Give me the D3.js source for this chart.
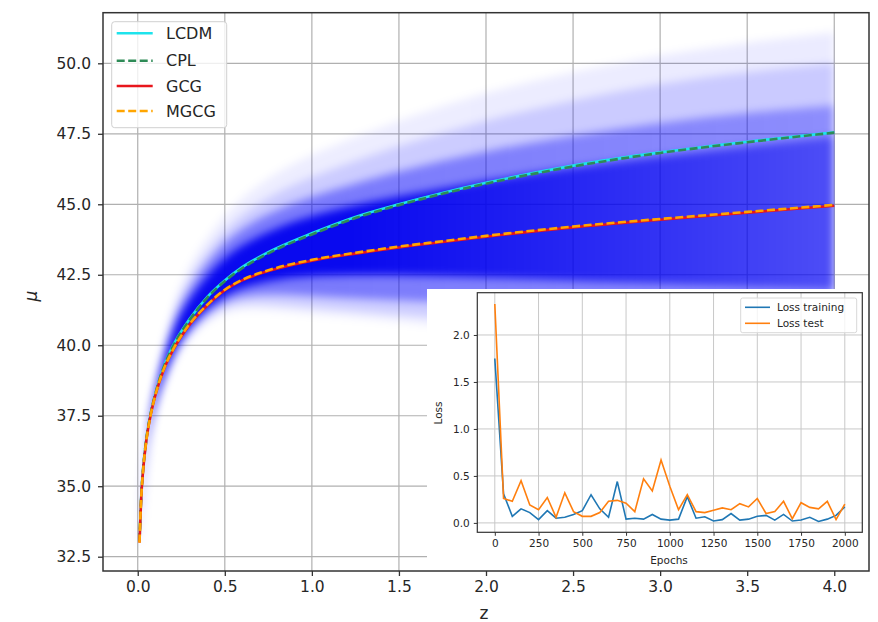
<!DOCTYPE html>
<html>
<head>
<meta charset="utf-8">
<script src="https://cdn.jsdelivr.net/npm/d3@7"></script>
<style>
  html, body { margin: 0; padding: 0; background: #fff; }
  svg { display: block; }
  text { font-family: "DejaVu Sans", sans-serif; fill: #262626; }
</style>
</head>
<body>
<svg id="chart" width="878" height="622"></svg>
<script>
// ---- Distance modulus curves ----
const zGrid = [0.01, 0.02, 0.03, 0.05, 0.075, 0.1, 0.15, 0.2, 0.3, 0.4, 0.5, 0.6, 0.75, 1.0, 1.25, 1.5, 1.75, 2.0, 2.5, 3.0, 3.5, 4.0];
const muLCDM = [33.05, 34.65, 35.55, 36.7, 37.6, 38.25, 39.25, 39.95, 40.95, 41.72, 42.3, 42.77, 43.3, 43.97, 44.55, 45.0, 45.4, 45.76, 46.37, 46.84, 47.22, 47.55];
const muCPL  = [33.05, 34.65, 35.55, 36.7, 37.6, 38.25, 39.24, 39.93, 40.92, 41.69, 42.27, 42.73, 43.26, 43.93, 44.51, 44.97, 45.37, 45.73, 46.34, 46.82, 47.2, 47.54];
const muGCG  = [33.0, 34.6, 35.5, 36.65, 37.55, 38.2, 39.15, 39.8, 40.75, 41.42, 41.95, 42.3, 42.63, 43.0, 43.25, 43.47, 43.66, 43.85, 44.18, 44.45, 44.7, 44.95];
const muMGCG = [33.0, 34.6, 35.5, 36.65, 37.55, 38.2, 39.16, 39.81, 40.77, 41.44, 41.97, 42.32, 42.66, 43.03, 43.28, 43.5, 43.69, 43.88, 44.21, 44.48, 44.73, 44.98];

// ---- Spread of the reconstructed realisations (nested envelopes, outer to inner) ----
const bandZ = [0.01, 0.05, 0.1, 0.2, 0.3, 0.5, 0.75, 1.0, 1.5, 2.0, 2.5, 3.0, 3.5, 4.0];
const haloLo  = [32.9, 36.25, 37.7, 39.4, 40.35, 41.3, 41.25, 41.1, 40.85, 40.5, 40.2, 39.9, 39.7, 39.5];
const haloHi  = [33.1, 37.0, 38.85, 41.5, 42.95, 44.75, 46.0, 46.8, 48.0, 49.0, 49.7, 50.3, 50.75, 51.1];
const faintLo = [32.92, 36.3, 37.8, 39.5, 40.5, 41.5, 41.5, 41.35, 41.1, 40.85, 40.6, 40.35, 40.15, 39.95];
const faintHi = [33.08, 36.95, 38.7, 41.2, 42.5, 44.2, 45.3, 46.0, 47.1, 48.0, 48.7, 49.3, 49.7, 50.0];
const midLo   = [32.95, 36.38, 37.92, 39.62, 40.6, 41.7, 41.85, 41.75, 41.6, 41.45, 41.3, 41.15, 41.0, 40.9];
const midHi   = [33.05, 36.87, 38.58, 40.9, 42.1, 43.8, 44.7, 45.3, 46.2, 46.9, 47.45, 47.9, 48.25, 48.5];
const coreLo  = [32.97, 36.45, 38.05, 39.75, 40.75, 41.9, 42.3, 42.5, 42.5, 42.4, 42.3, 42.2, 42.1, 42.0];
const coreHi  = [33.03, 36.8, 38.45, 40.6, 41.7, 43.25, 44.05, 44.65, 45.3, 45.85, 46.3, 46.7, 47.05, 47.4];

const xTicks = [0.0, 0.5, 1.0, 1.5, 2.0, 2.5, 3.0, 3.5, 4.0];
const yTicks = [32.5, 35.0, 37.5, 40.0, 42.5, 45.0, 47.5, 50.0];

// ---- Training history (inset) ----
const epochs = d3.range(0, 2001, 50);
const lossTrain = [1.75, 0.31, 0.07, 0.15, 0.11, 0.035, 0.13, 0.05, 0.06, 0.09, 0.13, 0.30, 0.15, 0.06, 0.44, 0.04, 0.05, 0.04, 0.09, 0.04, 0.03,
                   0.04, 0.28, 0.05, 0.065, 0.02, 0.035, 0.10, 0.03, 0.04, 0.07, 0.08, 0.03, 0.09, 0.02, 0.03, 0.06, 0.015, 0.04, 0.08, 0.17];
const lossTest  = [2.33, 0.26, 0.23, 0.45, 0.19, 0.14, 0.27, 0.06, 0.32, 0.12, 0.07, 0.07, 0.11, 0.23, 0.24, 0.21, 0.12, 0.47, 0.34, 0.67, 0.39,
                   0.14, 0.30, 0.12, 0.11, 0.135, 0.16, 0.14, 0.205, 0.17, 0.26, 0.10, 0.12, 0.23, 0.045, 0.215, 0.165, 0.15, 0.23, 0.035, 0.20];
const insetXTicks = [0, 250, 500, 750, 1000, 1250, 1500, 1750, 2000];
const insetYTicks = [0.0, 0.5, 1.0, 1.5, 2.0];

const svg = d3.select("#chart");
const defs = svg.append("defs");

// main axes frame
const M = { left: 103, right: 869, top: 12.7, bottom: 571 };
const x = d3.scaleLinear().domain([-0.1995, 4.1995]).range([M.left, M.right]);
const y = d3.scaleLinear().domain([31.993, 51.795]).range([M.bottom, M.top]);

// grid
const grid = svg.append("g").attr("stroke", "#b0b0b0").attr("stroke-width", 1.2);
xTicks.forEach(t => grid.append("line").attr("x1", x(t)).attr("x2", x(t)).attr("y1", M.top).attr("y2", M.bottom));
yTicks.forEach(t => grid.append("line").attr("x1", M.left).attr("x2", M.right).attr("y1", y(t)).attr("y2", y(t)));

// band: blue envelopes, softened, fading with redshift
defs.append("filter").attr("id", "soft").attr("x", "-5%").attr("y", "-5%").attr("width", "110%").attr("height", "110%")
  .append("feGaussianBlur").attr("stdDeviation", 4.5);
defs.append("clipPath").attr("id", "bandClip").append("rect")
  .attr("x", M.left).attr("y", M.top).attr("width", x(4.0) - M.left + 0.5).attr("height", M.bottom - M.top);

const levels = [
  { lo: haloLo,  hi: haloHi,  near: 0.07, far: 0.08, color: "#0000ff" },
  { lo: faintLo, hi: faintHi, near: 0.14, far: 0.14, color: "#0000ff" },
  { lo: midLo,   hi: midHi,   near: 0.4,  far: 0.3,  color: "#0000f8" },
  { lo: coreLo,  hi: coreHi,  near: 0.93, far: 0.45, color: "#0000ee" }
];
levels.forEach((lv, i) => {
  const g = defs.append("linearGradient").attr("id", "bandGrad" + i)
    .attr("gradientUnits", "userSpaceOnUse")
    .attr("x1", x(0)).attr("x2", x(4)).attr("y1", 0).attr("y2", 0);
  g.append("stop").attr("offset", 0).attr("stop-color", lv.color).attr("stop-opacity", lv.near);
  g.append("stop").attr("offset", 0.3).attr("stop-color", lv.color).attr("stop-opacity", lv.near);
  g.append("stop").attr("offset", 1).attr("stop-color", lv.color).attr("stop-opacity", lv.far);
});

const bandOuter = svg.append("g").attr("clip-path", "url(#bandClip)");
const band = bandOuter.append("g").attr("filter", "url(#soft)");
levels.forEach((lv, i) => {
  const area = d3.area()
    .x((d, j) => x(bandZ[j]))
    .y0((d, j) => y(lv.lo[j]))
    .y1((d, j) => y(lv.hi[j]))
    .curve(d3.curveBasis);
  band.append("path").attr("d", area(bandZ)).attr("fill", `url(#bandGrad${i})`);
});

// model curves
const line = arr => d3.line().x((d, j) => x(zGrid[j])).y((d, j) => y(arr[j])).curve(d3.curveMonotoneX)(zGrid);
const series = [
  { name: "LCDM", data: muLCDM, color: "#1ee3ec", dash: null },
  { name: "CPL",  data: muCPL,  color: "#2e8b57", dash: "8,3.5" },
  { name: "GCG",  data: muGCG,  color: "#e8161c", dash: null },
  { name: "MGCG", data: muMGCG, color: "#ffa500", dash: "8,3.5" }
];
series.forEach(s => {
  svg.append("path").attr("d", line(s.data)).attr("fill", "none")
    .attr("stroke", s.color).attr("stroke-width", 2.6)
    .attr("stroke-dasharray", s.dash);
});

// legend
const leg = svg.append("g");
leg.append("rect").attr("x", 111.7).attr("y", 21.7).attr("width", 115).attr("height", 106)
  .attr("rx", 3).attr("fill", "#fff").attr("fill-opacity", 0.8).attr("stroke", "#d0d0d0");
const legY = [33.3, 60.7, 86, 111];
series.forEach((s, i) => {
  leg.append("line").attr("x1", 116.7).attr("x2", 152.7).attr("y1", legY[i]).attr("y2", legY[i])
    .attr("stroke", s.color).attr("stroke-width", 2.6).attr("stroke-dasharray", s.dash);
  leg.append("text").attr("x", 166).attr("y", legY[i]).attr("dy", "0.35em")
    .attr("font-size", 16).text(s.name);
});

// axes
const xAxis = svg.append("g").attr("transform", `translate(0,${M.bottom})`)
  .call(d3.axisBottom(x).tickValues(xTicks).tickFormat(d3.format(".1f")).tickSize(5).tickPadding(5));
const yAxis = svg.append("g").attr("transform", `translate(${M.left},0)`)
  .call(d3.axisLeft(y).tickValues(yTicks).tickFormat(d3.format(".1f")).tickSize(5).tickPadding(7));
[xAxis, yAxis].forEach(a => {
  a.select(".domain").remove();
  a.selectAll(".tick line").attr("stroke", "#333").attr("stroke-width", 1.3);
  a.selectAll(".tick text").attr("font-size", 15.5).attr("font-family", "DejaVu Sans").attr("fill", "#262626");
});

svg.append("text").attr("x", 484).attr("y", 619).attr("text-anchor", "middle").attr("font-size", 17).text("z");
svg.append("text").attr("transform", "translate(37,296) rotate(-90)").attr("text-anchor", "middle")
  .attr("font-size", 17).attr("font-style", "italic").text("μ");

// ---- inset panel ----
svg.append("rect").attr("x", 427).attr("y", 289).attr("width", M.right - 427).attr("height", M.bottom - 289).attr("fill", "#fff");

// main spines
svg.append("rect").attr("x", M.left).attr("y", M.top).attr("width", M.right - M.left).attr("height", M.bottom - M.top)
  .attr("fill", "none").attr("stroke", "#333").attr("stroke-width", 1.5);

const I = { left: 477.3, right: 862.3, top: 292.7, bottom: 532.3 };
const xi = d3.scaleLinear().domain([-100, 2100]).range([I.left, I.right]);
const yi = d3.scaleLinear().domain([-0.1, 2.45]).range([I.bottom, I.top]);

const igrid = svg.append("g").attr("stroke", "#c8c8c8").attr("stroke-width", 1);
insetXTicks.forEach(t => igrid.append("line").attr("x1", xi(t)).attr("x2", xi(t)).attr("y1", I.top).attr("y2", I.bottom));
insetYTicks.forEach(t => igrid.append("line").attr("x1", I.left).attr("x2", I.right).attr("y1", yi(t)).attr("y2", yi(t)));

const iline = arr => d3.line().x((d, j) => xi(epochs[j])).y((d, j) => yi(arr[j]))(epochs);
svg.append("path").attr("d", iline(lossTrain)).attr("fill", "none").attr("stroke", "#1f77b4").attr("stroke-width", 1.6);
svg.append("path").attr("d", iline(lossTest)).attr("fill", "none").attr("stroke", "#ff7f0e").attr("stroke-width", 1.6);

svg.append("rect").attr("x", I.left).attr("y", I.top).attr("width", I.right - I.left).attr("height", I.bottom - I.top)
  .attr("fill", "none").attr("stroke", "#333").attr("stroke-width", 1.2);

const xiAxis = svg.append("g").attr("transform", `translate(0,${I.bottom})`)
  .call(d3.axisBottom(xi).tickValues(insetXTicks).tickFormat(d3.format("d")).tickSize(3.5).tickPadding(4));
const yiAxis = svg.append("g").attr("transform", `translate(${I.left},0)`)
  .call(d3.axisLeft(yi).tickValues(insetYTicks).tickFormat(d3.format(".1f")).tickSize(3.5).tickPadding(4));
[xiAxis, yiAxis].forEach(a => {
  a.select(".domain").remove();
  a.selectAll(".tick line").attr("stroke", "#333").attr("stroke-width", 1);
  a.selectAll(".tick text").attr("font-size", 10.5).attr("font-family", "DejaVu Sans").attr("fill", "#333");
});
svg.append("text").attr("x", 669).attr("y", 564).attr("text-anchor", "middle").attr("font-size", 10.5).text("Epochs");
svg.append("text").attr("transform", "translate(442,413) rotate(-90)").attr("text-anchor", "middle")
  .attr("font-size", 10.5).text("Loss");

// inset legend
const il = svg.append("g");
il.append("rect").attr("x", 740.7).attr("y", 298).attr("width", 116).attr("height", 34.7)
  .attr("rx", 2).attr("fill", "#fff").attr("fill-opacity", 0.8).attr("stroke", "#d8d8d8");
[["Loss training", "#1f77b4", 307.3], ["Loss test", "#ff7f0e", 323.3]].forEach(([t, c, yy]) => {
  il.append("line").attr("x1", 745).attr("x2", 770).attr("y1", yy).attr("y2", yy).attr("stroke", c).attr("stroke-width", 1.6);
  il.append("text").attr("x", 777).attr("y", yy).attr("dy", "0.35em").attr("font-size", 10.5).text(t);
});
</script>
</body>
</html>
